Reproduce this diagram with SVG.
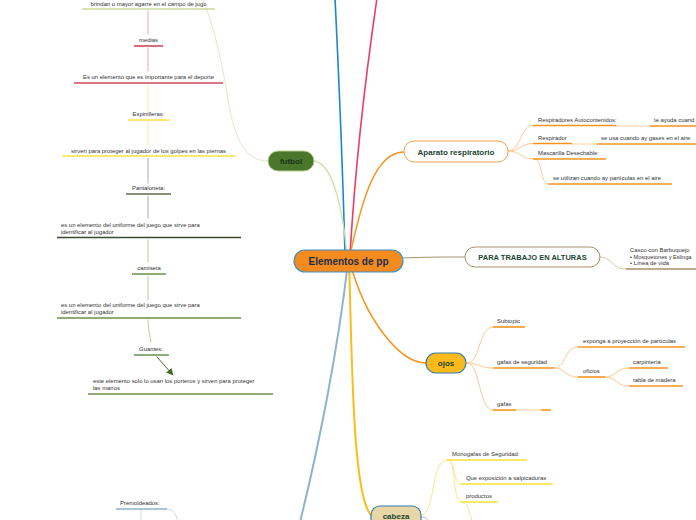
<svg xmlns="http://www.w3.org/2000/svg" width="696" height="520" viewBox="0 0 696 520">
<style>
text{font-family:"Liberation Sans",Arial,sans-serif;fill:#333}
.s{font-size:5.9px}
.c{text-anchor:middle}
.b{font-weight:bold;fill:#1c4532;text-anchor:middle}
.ln{fill:none;stroke-linecap:round}
.u{fill:none;stroke-width:1.6}
</style>
<defs>
<marker id="ah" viewBox="0 0 10 10" refX="9" refY="5" markerWidth="7" markerHeight="7" orient="auto"><path d="M0,0L10,5L0,10z" fill="#3f6a22"/></marker>
</defs>
<g id="connectors">
<path class="ln" d="M345,255 C343,180 340,100 335,-2" stroke="#1d87c8" stroke-width="1.6"/>
<path class="ln" d="M350,255 C355,170 365,80 377,-2" stroke="#ee3d63" stroke-width="1.6"/>
<path class="ln" d="M347,255 C344,220 335,165 315,161" stroke="#d5dfa6" stroke-width="1.4"/>
<path class="ln" d="M350,255 C362,200 375,152 404,152" stroke="#f7941d" stroke-width="1.4"/>
<path class="ln" d="M403,258 C430,257 440,257 465,257" stroke="#a89168" stroke-width="1"/>
<path class="ln" d="M350,262 C365,320 400,363 426,363" stroke="#f7941d" stroke-width="1.5"/>
<path class="ln" d="M349,262 C352,350 352,495 371,515" stroke="#fbbd19" stroke-width="2"/>
<path class="ln" d="M348,262 C338,350 318,450 300,522" stroke="#8db4cc" stroke-width="2"/>
<path class="ln" d="M268,161 C245,161 235,140 228,100 C222,60 212,20 202,-2" stroke="#e3e8c4" stroke-width="1"/>
<path class="ln" d="M148,11 V34 M148,48 V71" stroke="#f2b3c0" stroke-width="1.2"/>
<path class="ln" d="M148,85 V112 M148,122 V145" stroke="#fbf3a6" stroke-width="1.2"/>
<path class="ln" d="M148,158 V183 M148,196 V218" stroke="#b9bfb2" stroke-width="1.2"/>
<path class="ln" d="M148,240 V262 M148,276 V300" stroke="#c6d5b7" stroke-width="1.2"/>
<path class="ln" d="M148,320 C148,330 150,335 151,342" stroke="#c6d5b7" stroke-width="1.2"/>
<path class="ln" d="M157,357 L173,375" stroke="#3f6a22" stroke-width="1" marker-end="url(#ah)"/>
<path class="ln" d="M508,151 C521,151 520,125.5 533,125.5 M508,151 C521,151 520,143.5 533,143.5 M508,151 C521,151 520,159 533,159" stroke="#fcc890" stroke-width="1"/>
<path class="ln" d="M616,126 H650 M572,144 H597" stroke="#fde0c2" stroke-width="1.6"/>
<path class="ln" d="M535,159 C543,160 540,184 548,184" stroke="#fcc890" stroke-width="1"/>
<path class="ln" d="M600,257 C613,257 611,269 626,269" stroke="#d8c9a8" stroke-width="1"/>
<path class="ln" d="M467,363 C481,363 478,327 493,327 M467,363 C481,363 478,368 493,368 M467,363 C481,363 478,410 493,410" stroke="#fcc890" stroke-width="1"/>
<path class="ln" d="M554,368 C566,368 564,347 578,347 M554,368 C566,368 564,377 578,377" stroke="#fcc890" stroke-width="1"/>
<path class="ln" d="M605,377 C617,377 615,368 629,368 M605,377 C617,377 615,386 629,386" stroke="#fcc890" stroke-width="1"/>
<path class="ln" d="M516,410 H541" stroke="#fde0c2" stroke-width="1.6"/>
<path class="ln" d="M421,515 C436,515 430,460 447,460" stroke="#fde58a" stroke-width="1"/>
<path class="ln" d="M448,460 C457,461 452,484 461,484 M448,460 C457,461 452,502 461,502 M462,502 C470,503 468,515 473,522" stroke="#fde58a" stroke-width="1"/>
<path class="ln" d="M421,517 C426,517 428,519 430,522" stroke="#c7aee0" stroke-width="1"/>
<path class="ln" d="M166,509 C174,509 176,514 178,522 M141,509 V522" stroke="#c8dbe6" stroke-width="1"/>
</g>
<g id="n_center"><rect x="294" y="250" width="109" height="22" rx="11" fill="#f38b1f" stroke="#3b8fca" stroke-width="1.2"/><text x="348.5" y="265" text-anchor="middle" style="font-size:10px;font-weight:bold;fill:#1d2b4f">Elementos de pp</text></g>
<g id="n_futbol"><rect x="268" y="151" width="46" height="20" rx="10" fill="#4b772c" stroke="#b5cd8a" stroke-width="1"/><text class="b" x="291" y="164" style="font-size:8px;fill:#163319">futbol</text></g>
<g id="n_aparato"><rect x="404" y="141" width="104" height="21" rx="10" fill="#fff" stroke="#f7a14a" stroke-width="1"/><text class="b" x="456" y="154.5" style="font-size:8px">Aparato respiratorio</text></g>
<g id="n_alturas"><rect x="465" y="247" width="135" height="20" rx="10" fill="#fff" stroke="#a89168" stroke-width="1"/><text class="b" x="532.5" y="260" style="font-size:7.5px">PARA TRABAJO EN ALTURAS</text></g>
<g id="n_ojos"><rect x="426" y="353" width="40" height="20" rx="10" fill="#fbb91b" stroke="#2e7fb0" stroke-width="1.2"/><text class="b" x="446" y="366" style="font-size:8px">ojos</text></g>
<g id="n_cabeza"><rect x="371" y="506" width="50" height="30" rx="9" fill="#e8d5a8" stroke="#2e7fb0" stroke-width="1.2"/><text class="b" x="396" y="519" style="font-size:8px">cabeza</text></g>
<g id="n_brindan"><text class="s c" x="148.5" y="5.5">brindan u mayor agarre en el campo de jugo</text><path class="u" d="M82,9H215" stroke="#cad99c"/></g>
<g id="n_medias"><text class="s c" x="148.5" y="42">medias</text><path class="u" d="M134,46H163" stroke="#d0485e"/></g>
<g id="n_importante"><text class="s c" x="148.5" y="79">Es un elemento que es importante para el deporte</text><path class="u" d="M74,83H223" stroke="#d0485e"/></g>
<g id="n_espinilleras"><text class="s c" x="148.5" y="116">Espinilleras:</text><path class="u" d="M128,120H170" stroke="#f6e640"/></g>
<g id="n_sirven"><text class="s c" x="148.5" y="153">sirven para proteger al jugador de los golpes en las piernas</text><path class="u" d="M62,156H236" stroke="#f6e640"/></g>
<g id="n_pantaloneta"><text class="s c" x="148.5" y="190">Pantaloneta:</text><path class="u" d="M126,194H171" stroke="#5d6e4e"/></g>
<g id="n_uniforme1"><text class="s" x="61" y="227">es un elemento del uniforme del juego que sirve para</text><text class="s" x="61" y="233.5">identificar al jugador</text><path class="u" d="M57,237.5H241" stroke="#3b4a33"/></g>
<g id="n_camiseta"><text class="s c" x="149" y="270">camiseta</text><path class="u" d="M132,274H166" stroke="#6a8f4a"/></g>
<g id="n_uniforme2"><text class="s" x="61" y="307">es un elemento del uniforme del juego que sirve para</text><text class="s" x="61" y="314">identificar al jugador</text><path class="u" d="M57,318H241" stroke="#6a8f4a"/></g>
<g id="n_guantes"><text class="s c" x="151" y="351">Guantes:</text><path class="u" d="M134,355H169" stroke="#6a8f4a"/></g>
<g id="n_porteros"><text class="s" x="93" y="383">este elemento solo lo usan los porteros y sirven para proteger</text><text class="s" x="93" y="390">las manos</text><path class="u" d="M88,394H273" stroke="#6a8f4a"/></g>
<g id="n_autocont"><text class="s" x="538" y="122">Respiradores Autocontenidos:</text><path class="u" d="M533,125.5H616" stroke="#f7941d"/></g>
<g id="n_ayuda"><text class="s" x="654" y="122">te ayuda cuand</text><path class="u" d="M650,126H698" stroke="#f7941d"/></g>
<g id="n_respirador"><text class="s" x="538" y="140">Respirador</text><path class="u" d="M533,143.5H572" stroke="#f7941d"/></g>
<g id="n_gases"><text class="s" x="601" y="140">se usa cuando ay gases en el aire</text><path class="u" d="M597,144H698" stroke="#f7941d"/></g>
<g id="n_mascarilla"><text class="s" x="538" y="155">Mascarilla Desechable:</text><path class="u" d="M533,159H606" stroke="#f7941d"/></g>
<g id="n_particulas"><text class="s" x="553" y="180">se utilizan cuando ay partículas en el aire</text><path class="u" d="M548,184H672" stroke="#f7941d"/></g>
<g id="n_casco"><text class="s" x="630" y="252">Casco con Barbuquejo</text><text class="s" x="630" y="258.5" style="font-size:5.6px">• Mosquetones y Eslinga</text><text class="s" x="630" y="265">• Línea de vida</text><path class="u" d="M626,269H698" stroke="#a89168"/></g>
<g id="n_subtopic"><text class="s" x="497" y="323">Subtopic</text><path class="u" d="M493,327H525" stroke="#f7941d"/></g>
<g id="n_gafasseg"><text class="s" x="497" y="364">gafas de seguridad</text><path class="u" d="M493,368H554" stroke="#f7941d"/></g>
<g id="n_gafas"><text class="s" x="497" y="406">gafas</text><path class="u" d="M493,410H516" stroke="#f7941d"/></g>
<g id="n_empty"><path class="u" d="M541,410H551" stroke="#f7941d"/></g>
<g id="n_exponga"><text class="s" x="583" y="343">exponga a proyección de partículas</text><path class="u" d="M578,347H685" stroke="#f7941d"/></g>
<g id="n_oficios"><text class="s" x="583" y="373">oficios</text><path class="u" d="M578,377H605" stroke="#f7941d"/></g>
<g id="n_carpinteria"><text class="s" x="633" y="364">carpintería</text><path class="u" d="M629,368H668" stroke="#f7941d"/></g>
<g id="n_tabla"><text class="s" x="633" y="382">tabla de madera</text><path class="u" d="M629,386H683" stroke="#f7941d"/></g>
<g id="n_monogafas"><text class="s" x="452" y="456">Monogafas de Seguridad:</text><path class="u" d="M447,460H527" stroke="#f8e232"/></g>
<g id="n_salpicaduras"><text class="s" x="466" y="480">Que exposición a salpicaduras</text><path class="u" d="M461,484H553" stroke="#f8e232"/></g>
<g id="n_productos"><text class="s" x="466" y="498">productos</text><path class="u" d="M461,502H498" stroke="#f8e232"/></g>
<g id="n_premoldeados"><text class="s" x="120" y="505">Premoldeados:</text><path class="u" d="M116,509H167" stroke="#8db4cc"/></g>
</svg>
